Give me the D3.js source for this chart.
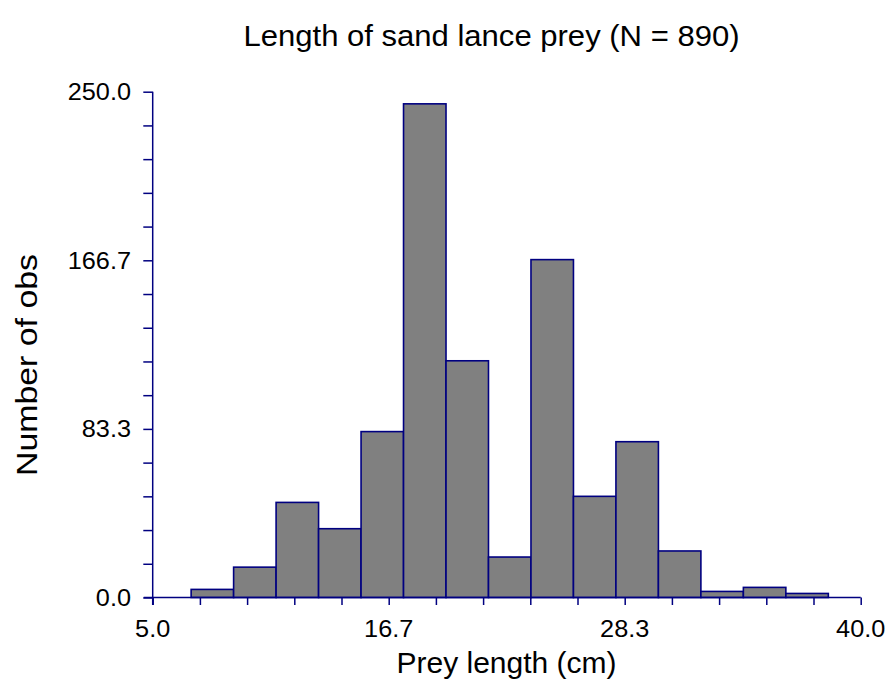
<!DOCTYPE html>
<html><head><meta charset="utf-8">
<script src="https://cdn.jsdelivr.net/npm/d3@7"></script>
<style>body{margin:0;background:#fff;} svg{display:block;}</style>
</head><body>
<div id="chart"></div>
<script>
const binStart = 6.9;
const binWidth = 2.1;
const counts = [4, 15, 47, 34, 82, 244, 117, 20, 167, 50, 77, 23, 3, 5, 2];
const xTickLabels = ["5.0", "16.7", "28.3", "40.0"];
const yTickLabels = ["0.0", "83.3", "166.7", "250.0"];
const xDomain = [5, 40];
const yDomain = [0, 250];
const title = "Length of sand lance prey (N = 890)";
const xLabel = "Prey length (cm)";
const yLabel = "Number of obs";

const W = 891, H = 686;
const svg = d3.select("#chart").append("svg").attr("width", W).attr("height", H);
const x = d3.scaleLinear().domain(xDomain).range([152.7, 860.7]);
const y = d3.scaleLinear().domain(yDomain).range([597.5, 91.7]);
const axisColor = "#000080";
const font = "Liberation Sans, Arial, sans-serif";

const bins = counts.map((c, i) => ({x0: binStart + i * binWidth, x1: binStart + (i + 1) * binWidth, n: c}));
svg.append("g").selectAll("rect").data(bins).join("rect")
  .attr("x", d => x(d.x0)).attr("width", d => x(d.x1) - x(d.x0))
  .attr("y", d => y(d.n)).attr("height", d => y(0) - y(d.n))
  .attr("fill", "#808080").attr("stroke", axisColor).attr("stroke-width", 1.6);

function stretch(sel, k) {
  sel.each(function() {
    const L = this.getComputedTextLength();
    d3.select(this).attr("textLength", L * k).attr("lengthAdjust", "spacingAndGlyphs");
  });
}

// X axis
const xMajor = xTickLabels.map((v, i) => xDomain[0] + i * (xDomain[1] - xDomain[0]) / 3);
const xMinor = d3.range(16).map(i => xDomain[0] + i * (xDomain[1] - xDomain[0]) / 15);
const xAxis = d3.axisBottom(x).tickValues(xMinor).tickSize(7.5).tickFormat("");
const gx = svg.append("g").attr("transform", `translate(0,${y(0)})`).call(xAxis);
gx.select(".domain").attr("stroke", axisColor).attr("stroke-width", 1.5).attr("d", `M${x(xDomain[0]) - 9},0H${x(xDomain[1])}`);
gx.selectAll(".tick line").attr("stroke", axisColor).attr("stroke-width", 1.5);
svg.append("g").selectAll("text").data(xMajor).join("text")
  .attr("x", d => x(d)).attr("y", 637).attr("text-anchor", "middle")
  .attr("font-family", font).attr("font-size", 23).attr("fill", "#000")
  .text((d, i) => xTickLabels[i]).call(stretch, 1.1);

// Y axis
const yMajor = yTickLabels.map((v, i) => yDomain[0] + i * (yDomain[1] - yDomain[0]) / 3);
const yMinor = d3.range(16).map(i => yDomain[0] + i * (yDomain[1] - yDomain[0]) / 15);
const yAxis = d3.axisLeft(y).tickValues(yMinor).tickSize(9.4).tickFormat("");
const gy = svg.append("g").attr("transform", `translate(${x(xDomain[0])},0)`).call(yAxis);
gy.select(".domain").attr("stroke", axisColor).attr("stroke-width", 1.5).attr("d", `M0,${y(0) + 7.5}V${y(yDomain[1])}`);
gy.selectAll(".tick line").attr("stroke", axisColor).attr("stroke-width", 1.5);
svg.append("g").selectAll("text").data(yMajor).join("text")
  .attr("x", 131).attr("y", d => y(d) + 8.3).attr("text-anchor", "end")
  .attr("font-family", font).attr("font-size", 23).attr("fill", "#000")
  .text((d, i) => yTickLabels[i]).call(stretch, 1.1);

// Labels
svg.append("text").attr("x", 506.5).attr("y", 673).attr("text-anchor", "middle")
  .attr("font-family", font).attr("font-size", 29).attr("fill", "#000")
  .text(xLabel).attr("textLength", 220).attr("lengthAdjust", "spacingAndGlyphs");
svg.append("text").attr("transform", `translate(37,365) rotate(-90)`).attr("text-anchor", "middle")
  .attr("font-family", font).attr("font-size", 29).attr("fill", "#000")
  .text(yLabel).attr("textLength", 222).attr("lengthAdjust", "spacingAndGlyphs");
svg.append("text").attr("x", 491.5).attr("y", 46).attr("text-anchor", "middle")
  .attr("font-family", font).attr("font-size", 29).attr("fill", "#000")
  .text(title).attr("textLength", 496).attr("lengthAdjust", "spacingAndGlyphs");
</script>
</body></html>
